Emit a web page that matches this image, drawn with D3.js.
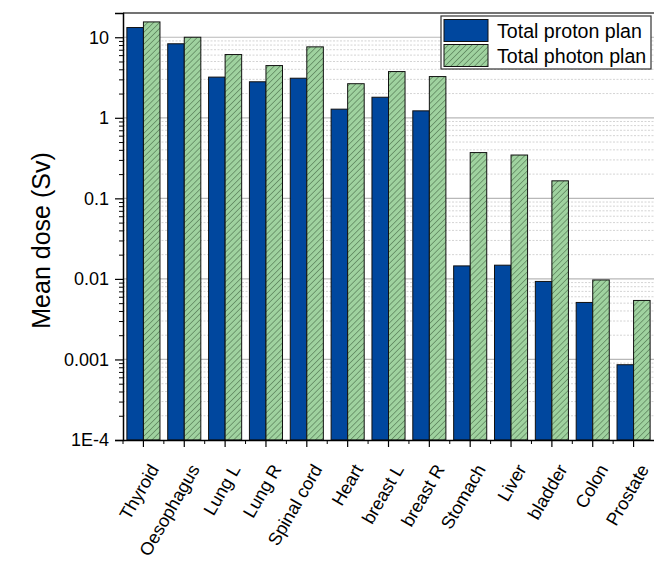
<!DOCTYPE html>
<html>
<head>
<meta charset="utf-8">
<script src="https://cdnjs.cloudflare.com/ajax/libs/d3/7.8.5/d3.min.js"></script>
<style>
body { margin: 0; background: #fff; }
text { font-family: "Liberation Sans", Arial, sans-serif; fill: #000; }
</style>
</head>
<body>
<svg id="chart" width="654" height="561"></svg>
<script>
// data
var organs = ["Thyroid", "Oesophagus", "Lung L", "Lung R", "Spinal cord", "Heart", "breast L", "breast R", "Stomach", "Liver", "bladder", "Colon", "Prostate"];
var protonDose = [13.2, 8.3, 3.2, 2.8, 3.1, 1.28, 1.8, 1.22, 0.0145, 0.0148, 0.0093, 0.0051, 0.00086];
var photonDose = [15.5, 10.0, 6.1, 4.45, 7.6, 2.65, 3.75, 3.25, 0.37, 0.345, 0.165, 0.0097, 0.0054];
var seriesNames = ["Total proton plan", "Total photon plan"];
var yTickValues = [1e-4, 0.001, 0.01, 0.1, 1, 10];
var yTickLabels = ["1E-4", "0.001", "0.01", "0.1", "1", "10"];

var margin = {top: 13, right: 0, bottom: 121, left: 123};
var svg = d3.select("#chart");
var W = +svg.attr("width"), H = +svg.attr("height");
var width = W - margin.left - margin.right;
var height = H - margin.top - margin.bottom;

var blue = "#00479e";

// hatch for photon bars
var defs = svg.append("defs");
var pat = defs.append("pattern")
	.attr("id", "hatch")
	.attr("patternUnits", "userSpaceOnUse")
	.attr("width", 4.2)
	.attr("height", 4.2)
	.attr("patternTransform", "rotate(45)");
pat.append("rect").attr("width", 4.2).attr("height", 4.2).attr("fill", "#9fd29f");
pat.append("line").attr("x1", 0).attr("y1", 0).attr("x2", 0).attr("y2", 4.2)
	.attr("stroke", "#3f5f3f").attr("stroke-width", 1);

var plot = svg.append("g").attr("transform", "translate(" + margin.left + "," + margin.top + ")");

var x0 = d3.scaleBand().domain(organs).range([0, width]).paddingInner(0.19).paddingOuter(0.095);
var x1 = d3.scaleBand().domain(seriesNames).range([0, x0.bandwidth()]);
var y = d3.scaleLog().domain([1e-4, 20]).range([height, 0]);

// gridlines
var minorVals = [];
yTickValues.forEach(function(v) {
	for (var k = 2; k <= 9; k++) {
		if (v * k < 20) minorVals.push(v * k);
	}
});
plot.append("g").selectAll("line.minor").data(minorVals).enter().append("line")
	.attr("class", "minor")
	.attr("x1", 0).attr("x2", width)
	.attr("y1", function(d) { return y(d); }).attr("y2", function(d) { return y(d); })
	.attr("stroke", "#d4d4d4").attr("stroke-width", 1).attr("stroke-dasharray", "2,1.5");
plot.append("g").selectAll("line.major").data(yTickValues.slice(1)).enter().append("line")
	.attr("class", "major")
	.attr("x1", 0).attr("x2", width)
	.attr("y1", function(d) { return y(d); }).attr("y2", function(d) { return y(d); })
	.attr("stroke", "#b8b8b8").attr("stroke-width", 1.2);

// bars
var rows = organs.map(function(o, i) { return {organ: o, vals: [protonDose[i], photonDose[i]]}; });
var groups = plot.selectAll(".grp").data(rows).enter().append("g")
	.attr("class", "grp")
	.attr("transform", function(d) { return "translate(" + x0(d.organ) + ",0)"; });
groups.selectAll("rect").data(function(d) { return d.vals.map(function(v, j) { return {s: seriesNames[j], v: v}; }); })
	.enter().append("rect")
	.attr("x", function(d) { return x1(d.s); })
	.attr("width", x1.bandwidth())
	.attr("y", function(d) { return y(d.v); })
	.attr("height", function(d) { return height - y(d.v); })
	.attr("fill", function(d, j) { return j === 0 ? blue : "url(#hatch)"; })
	.attr("stroke", "#111")
	.attr("stroke-width", 1);

// frame top
plot.append("line").attr("x1", 0).attr("x2", width).attr("y1", 0).attr("y2", 0)
	.attr("stroke", "#444").attr("stroke-width", 1.5);

// y axis
var yAxis = d3.axisLeft(y).tickValues(yTickValues).tickSize(8)
	.tickFormat(function(d, i) { return yTickLabels[i]; });
var gy = plot.append("g").call(yAxis);
gy.select(".domain").attr("stroke", "#000").attr("stroke-width", 1.5);
gy.selectAll(".tick line").attr("stroke", "#000").attr("stroke-width", 1.2);
gy.selectAll(".tick text").attr("font-size", 18).attr("x", -14).attr("dy", "0.33em")
	.style("font-family", "'Liberation Sans', Arial, sans-serif");
plot.append("g").call(d3.axisLeft(y).tickValues(minorVals).tickSize(4).tickFormat(""))
	.call(function(g) { g.select(".domain").remove(); })
	.selectAll(".tick line").attr("stroke", "#000").attr("stroke-width", 1);

// x axis
var gx = plot.append("g").attr("transform", "translate(0," + height + ")")
	.call(d3.axisBottom(x0).tickSize(7).tickSizeOuter(0));
gx.select(".domain").attr("stroke", "#000").attr("stroke-width", 1.5);
gx.selectAll(".tick line").attr("stroke", "#000").attr("stroke-width", 1.2);
gx.selectAll(".tick text")
	.attr("font-size", 18)
	.style("font-family", "'Liberation Sans', Arial, sans-serif")
	.attr("text-anchor", "end")
	.attr("y", 0).attr("dy", 0)
	.attr("transform", "translate(16,29) rotate(-60)");
// minor ticks between categories
var bounds = organs.map(function(o) { return x0(o) - x0.step() * x0.paddingInner() / 2; });
plot.append("g").selectAll("line").data(bounds).enter().append("line")
	.attr("x1", function(d) { return d; }).attr("x2", function(d) { return d; })
	.attr("y1", height).attr("y2", height + 4)
	.attr("stroke", "#000").attr("stroke-width", 1);

// y label
svg.append("text")
	.attr("transform", "translate(50," + (margin.top + y(0.03)) + ") rotate(-90)")
	.attr("text-anchor", "middle")
	.attr("font-size", 25)
	.text("Mean dose (Sv)");

// legend
var leg = svg.append("g").attr("transform", "translate(441,16)");
leg.append("rect").attr("width", 210).attr("height", 53)
	.attr("fill", "#fff").attr("stroke", "#333").attr("stroke-width", 1.2);
leg.selectAll(".sw").data(seriesNames).enter().append("rect")
	.attr("class", "sw")
	.attr("x", 3).attr("y", function(d, i) { return 3.5 + i * 25; })
	.attr("width", 44).attr("height", 22)
	.attr("fill", function(d, i) { return i === 0 ? blue : "url(#hatch)"; })
	.attr("stroke", "#111").attr("stroke-width", 1);
leg.selectAll(".lt").data(seriesNames).enter().append("text")
	.attr("class", "lt")
	.attr("x", 56).attr("y", function(d, i) { return 21.5 + i * 25; })
	.attr("font-size", 19.6)
	.text(function(d) { return d; });
</script>
</body>
</html>
